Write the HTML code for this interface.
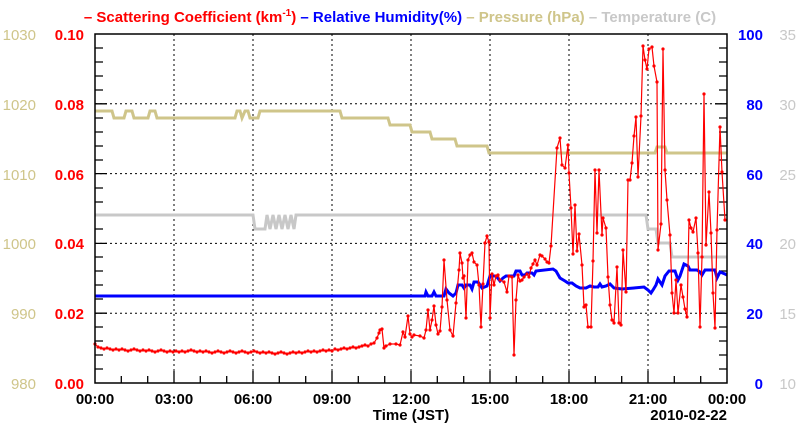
<!DOCTYPE html>
<html><head><meta charset="utf-8"><style>
body{margin:0;background:#fff}
svg{display:block;font-family:"Liberation Sans",sans-serif}
</style></head><body>
<svg width="800" height="434" viewBox="0 0 800 434">
<defs><marker id="dot" viewBox="0 0 4 4" refX="2" refY="2" markerWidth="4" markerHeight="4" markerUnits="userSpaceOnUse"><circle cx="2" cy="2" r="1.6" fill="#ff0000"/></marker></defs>
<g stroke="#000" stroke-width="1" stroke-dasharray="2,3">
<line x1="174" y1="34" x2="174" y2="383"/><line x1="253" y1="34" x2="253" y2="383"/>
<line x1="332" y1="34" x2="332" y2="383"/><line x1="411" y1="34" x2="411" y2="383"/>
<line x1="490" y1="34" x2="490" y2="383"/><line x1="569" y1="34" x2="569" y2="383"/>
<line x1="648" y1="34" x2="648" y2="383"/>
<line x1="95" y1="313.2" x2="727" y2="313.2"/><line x1="95" y1="243.4" x2="727" y2="243.4"/>
<line x1="95" y1="173.6" x2="727" y2="173.6"/><line x1="95" y1="103.8" x2="727" y2="103.8"/>
</g>
<path stroke="#000" stroke-width="1.3" fill="none" d="
M95 369h8M95 355h8M95 341h8M95 327h8M95 313.2h12M95 299h8M95 285h8M95 271h8M95 257h8M95 243.4h12M95 229h8M95 215h8M95 202h8M95 188h8M95 173.6h12M95 160h8M95 146h8M95 132h8M95 118h8M95 103.8h12M95 90h8M95 76h8M95 62h8M95 48h8
M727 369h-8M727 355h-8M727 341h-8M727 327h-8M727 313.2h-12M727 299h-8M727 285h-8M727 271h-8M727 257h-8M727 243.4h-12M727 229h-8M727 215h-8M727 202h-8M727 188h-8M727 173.6h-12M727 160h-8M727 146h-8M727 132h-8M727 118h-8M727 103.8h-12M727 90h-8M727 76h-8M727 62h-8M727 48h-8
M121.3 383v-7M147.7 383v-7M174 383v-12M200.3 383v-7M226.7 383v-7M253 383v-12M279.3 383v-7M305.7 383v-7M332 383v-12M358.3 383v-7M384.7 383v-7M411 383v-12M437.3 383v-7M463.7 383v-7M490 383v-12M516.3 383v-7M542.7 383v-7M569 383v-12M595.3 383v-7M621.7 383v-7M648 383v-12M674.3 383v-7M700.7 383v-7"/>
<polyline fill="none" stroke="#cfc58a" stroke-width="3" points="95,111 112,111 114,118 124,118 126,111 132,111 134,118 148,118 150,111 155,111 157,118 235,118 237,111 240,111 242,118 245,111 248,111 250,118 258,118 260,111 340,111 342,118 388,118 390,125 410,125 412,132 430,132 432,139 455,139 457,146 487,146 489,153 655,153 657,147 665,147 667,153 727,153"/>
<polyline fill="none" stroke="#c8c8c8" stroke-width="3" points="95,215 253,215 255,229 265,229 267,215 270,229 273,215 276,229 279,215 282,229 285,215 288,229 291,215 294,229 296,215 646,215 648,229 656,229 658,243 663,243 666,243 670,243 672,257 727,257"/>
<polyline fill="none" stroke="#0000ff" stroke-width="3" points="95,296 425,296 426,292 428,296 432,296 434,292 436,296 444,296 446,289 449,293 453,296 456,293 458,285 462,285 464,288 466,285 470,285 472,289 474,282 478,282 480,285 482,288 487,286 490,276 496,276 500,281 503,278 506,276 514,276 516,271 520,271 522,275 525,275 527,273 532,273 534,275 536,271 553,269 556,271 560,278 565,281 568,283 572,283 576,286 580,288 586,288 590,286 594,287 598,287 600,284 602,287 606,286 610,284 614,288 622,289 634,288 644,287 648,290 651,293 653,290 656,285 658,279 662,285 665,276 669,271 675,271 678,280 680,276 684,264 688,266 690,270 697,270 700,272 702,275 705,270 715,270 717,278 720,272 725,274 727,275"/>
<polyline fill="none" stroke="#ff0000" stroke-width="1.2" marker-start="url(#dot)" marker-mid="url(#dot)" marker-end="url(#dot)" points="95,344 98,347 101,348 104,349 107,348 110,349 113,350 116,349 119,350 122,349 125,350 128,351 131,350 134,349 137,350 140,351 143,350 146,351 149,350 152,351 155,352 158,351 161,350 164,351 167,352 170,351 173,352 176,351 179,352 182,351 185,352 188,351 191,350 194,351 197,352 200,351 203,352 206,351 209,352 212,353 215,352 218,351 221,352 224,353 227,352 230,351 233,352 236,353 239,352 242,351 245,352 248,353 251,352 254,351 257,352 260,353 263,352 266,353 269,352 272,353 275,354 278,353 281,352 284,353 287,354 290,353 293,352 296,353 299,352 302,353 305,352 308,351 311,352 314,351 317,352 320,351 323,350 326,351 329,350 332,351 335,349 338,350 341,349 344,348 347,349 350,348 353,347 356,348 359,347 362,346 365,345 368,346 371,344 374,343 377,338 379,333 380,330 382,329 384,348 386,346 390,344 396,344 400,345 403,332 405,337 408,316 410,334 412,337 414,335 420,336 424,338 426,330 428,310 430,330 432,320 434,306 436,325 438,334 440,331 442,307 444,260 447,300 450,330 453,336 456,303 459,270 460,253 462,263 463,278 464,276 466,318 468,260 470,255 472,253 474,262 477,265 479,285 481,327 483,284 485,243 487,236 489,242 490,318 492,274 494,285 496,276 498,275 500,280 504,282 507,292 509,276 512,277 514,355 516,300 518,275 520,281 522,280 524,277 527,274 529,277 531,268 533,264 535,260 537,265 540,255 542,256 545,259 547,262 549,263 551,246 557,148 560,138 562,165 565,168 568,145 569,173 571,208 573,254 575,205 577,251 579,234 582,265 584,307 586,305 588,327 591,327 593,261 595,170 597,233 599,170 602,235 603,218 606,228 608,277 610,305 612,320 614,323 617,267 619,323 621,325 623,250 626,292 628,180 630,180 632,163 634,136 636,117 638,177 641,116 643,46 645,60 647,69 649,49 652,47 654,66 657,82 658,250 661,224 663,49 665,170 667,200 670,235 672,293 674,313 676,280 678,313 681,285 683,297 685,309 687,317 689,220 691,228 693,232 696,218 698,253 700,327 702,257 704,94 706,245 709,192 711,233 713,293 715,328 717,230 720,127 722,172 725,220"/>
<rect x="95" y="34" width="632" height="349" fill="none" stroke="#000" stroke-width="1.5"/>
<text x="400" y="22" font-size="15" font-weight="bold" text-anchor="middle"><tspan fill="#ff0000">– Scattering Coefficient (km<tspan font-size="10" dy="-6">-1</tspan><tspan dy="6">)</tspan></tspan><tspan fill="#0000ff"> – Relative Humidity(%)</tspan><tspan fill="#cfc58a"> – Pressure (hPa)</tspan><tspan fill="#c8c8c8"> – Temperature (C)</tspan></text>
<g font-size="15" font-weight="bold" fill="#ff0000" text-anchor="end">
<text x="84" y="40">0.10</text><text x="84" y="110">0.08</text><text x="84" y="180">0.06</text><text x="84" y="249">0.04</text><text x="84" y="319">0.02</text><text x="84" y="389">0.00</text></g>
<g font-size="15" fill="#cfc58a" text-anchor="end">
<text x="36" y="40">1030</text><text x="36" y="110">1020</text><text x="36" y="180">1010</text><text x="36" y="249">1000</text><text x="36" y="319">990</text><text x="36" y="389">980</text></g>
<g font-size="15" font-weight="bold" fill="#0000ff" text-anchor="end">
<text x="763" y="40">100</text><text x="763" y="110">80</text><text x="763" y="180">60</text><text x="763" y="249">40</text><text x="763" y="319">20</text><text x="763" y="389">0</text></g>
<g font-size="15" fill="#c8c8c8" text-anchor="end">
<text x="796" y="40">35</text><text x="796" y="110">30</text><text x="796" y="180">25</text><text x="796" y="249">20</text><text x="796" y="319">15</text><text x="796" y="389">10</text></g>
<g font-size="15" font-weight="bold" fill="#000" text-anchor="middle">
<text x="95" y="404">00:00</text><text x="174" y="404">03:00</text><text x="253" y="404">06:00</text><text x="332" y="404">09:00</text><text x="411" y="404">12:00</text><text x="490" y="404">15:00</text><text x="569" y="404">18:00</text><text x="648" y="404">21:00</text><text x="727" y="404">00:00</text>
<text x="411" y="420">Time (JST)</text><text x="727" y="420" text-anchor="end">2010-02-22</text></g>
</svg>
</body></html>
